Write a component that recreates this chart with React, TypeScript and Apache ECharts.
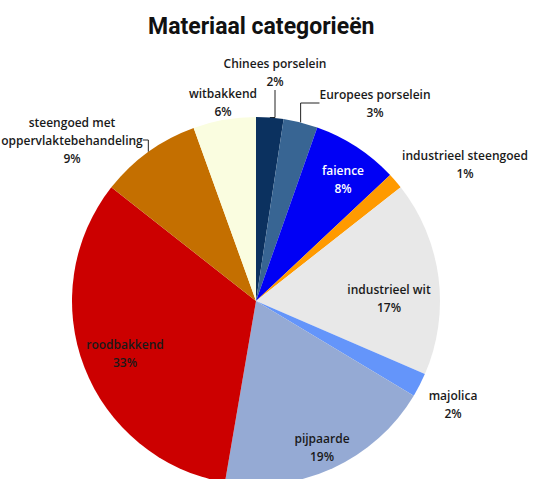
import React, { useEffect, useRef } from "react";
import * as echarts from "echarts";

const title = "Materiaal categorieën";
const categories = [
  "Chinees porselein",
  "Europees porselein",
  "faience",
  "industrieel steengoed",
  "industrieel wit",
  "majolica",
  "pijpaarde",
  "roodbakkend",
  "steengoed met\noppervlaktebehandeling",
  "witbakkend",
];
const values = [2.4, 3.0, 7.6, 1.4, 17.1, 2.1, 19.1, 32.9, 8.9, 5.5];
const colors = [
  "#0b315f",
  "#386593",
  "#0000f5",
  "#ff9a00",
  "#e8e8e8",
  "#6495fa",
  "#95aad4",
  "#cc0000",
  "#c46f00",
  "#fafde0",
];
const showLeader = [true, true, false, false, false, false, false, false, true, false];
const labelColors = ["#1a1a1a", "#1a1a1a", "#ffffff", "#1a1a1a", "#1a1a1a", "#1a1a1a", "#1a1a1a", "#1a1a1a", "#1a1a1a", "#1a1a1a"];

// label anchor positions (layout only)
const labelPos: [number, number][] = [
  [275, 72],
  [375, 103],
  [343, 179],
  [465, 164],
  [389, 298],
  [453, 404],
  [322, 447],
  [125, 353],
  [72, 140],
  [223, 102],
];

export default function App() {
  const ref = useRef<HTMLDivElement>(null);
  useEffect(() => {
    if (!ref.current) return;
    const chart = echarts.init(ref.current, undefined, { renderer: "svg" });
    chart.setOption({
      animation: false,
      title: {
        text: title,
        left: 143,
        top: 10,
        textStyle: {
          fontFamily: "Roboto",
          fontSize: 23,
          fontWeight: "bold",
          color: "#111",
        },
      },
      series: [
        {
          type: "pie",
          center: [256, 301],
          radius: 184,
          startAngle: 90,
          clockwise: true,
          percentPrecision: 0,
          avoidLabelOverlap: false,
          label: {
            show: true,
            position: "outside",
            formatter: "{b}\n{d}%",
            fontFamily: "Open Sans",
            fontSize: 12,
            fontWeight: 600,
            lineHeight: 18,
            align: "center",
          },
          labelLine: {
            show: true,
            lineStyle: { color: "#222", width: 1 },
          },
          labelLayout: (p: any) => {
            const pos = labelPos[p.dataIndex];
            return { x: pos[0], y: pos[1], align: "center", verticalAlign: "middle" };
          },
          itemStyle: { borderWidth: 0 },
          data: categories.map((c, i) => ({
            name: c,
            value: values[i],
            itemStyle: { color: colors[i] },
            label: { color: labelColors[i] },
            labelLine: { show: showLeader[i] },
          })),
        },
      ],
    });
    return () => chart.dispose();
  }, []);
  return (
    <div
      ref={ref}
      style={{ position: "fixed", left: 0, top: 0, width: 536, height: 479, background: "#fff" }}
    />
  );
}
